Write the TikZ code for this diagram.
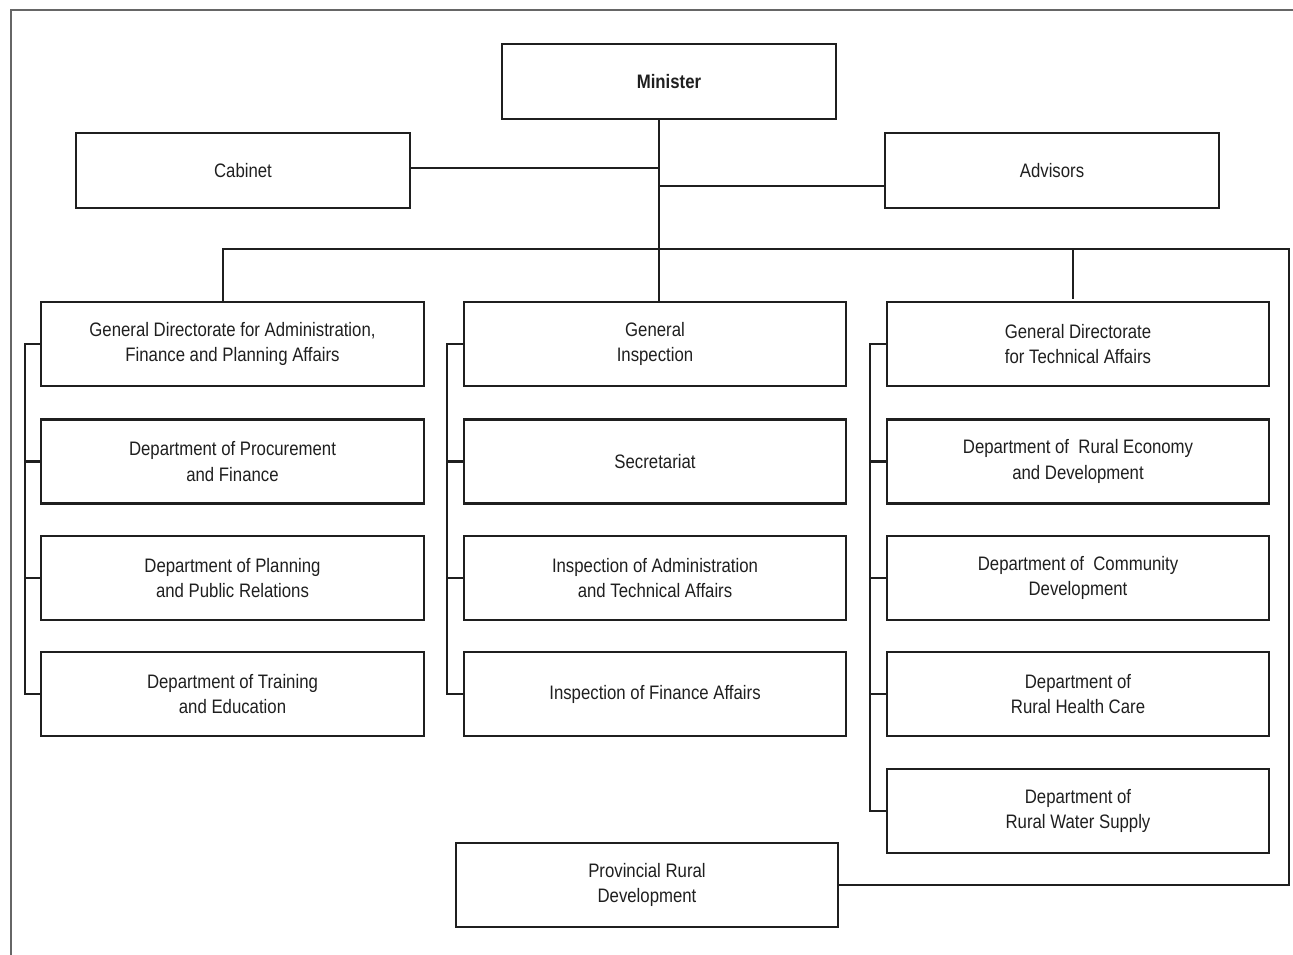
\documentclass[tikz,border=0pt]{standalone}
\usepackage{fontspec}
\setmainfont[FakeStretch=0.86]{Liberation Sans}
\begin{document}
\begin{tikzpicture}[x=1pt,y=-1pt,
  box/.style={draw=black!88, line width=2.3pt, inner sep=0pt, align=center,
    font=\fontsize{19.5}{25.5}\selectfont, text=black!88},
  colbox/.style={box, minimum width=382, minimum height=84},
  topbox/.style={box, minimum width=334, minimum height=75},
  conn/.style={draw=black!88, line width=2.3pt},
  frameline/.style={draw=black!60, line width=2pt}]
\useasboundingbox (0,0) rectangle (1293,955);
\draw[frameline] (11,955) -- (11,10) -- (1293,10);

% top
\node[topbox, font=\fontsize{19.5}{25.5}\selectfont\bfseries] (min) at (669,81.5) {Minister};
\node[topbox] (cab) at (243,170.5) {Cabinet};
\node[topbox] (adv) at (1052,170.5) {Advisors};

% left column
\node[colbox, minimum width=383] (l1) at (232.5,344) {General Directorate for Administration,\\Finance and Planning Affairs};
\node[colbox, minimum width=383] (l2) at (232.5,461.5) {Department of Procurement\\and Finance};
\node[colbox, minimum width=383] (l3) at (232.5,578) {Department of Planning\\and Public Relations};
\node[colbox, minimum width=383] (l4) at (232.5,694) {Department of Training\\and Education};

% middle column
\node[colbox] (m1) at (655,344) {General\\Inspection};
\node[colbox] (m2) at (655,461.5) {Secretariat};
\node[colbox] (m3) at (655,578) {Inspection of Administration\\and Technical Affairs};
\node[colbox] (m4) at (655,694) {Inspection of Finance Affairs};

% right column
\node[colbox] (r1) at (1078,344) {General Directorate\\for Technical Affairs};
\node[colbox] (r2) at (1078,461.5) {Department of\ \ Rural Economy\\and Development};
\node[colbox] (r3) at (1078,578) {Department of\ \ Community\\Development};
\node[colbox] (r4) at (1078,694) {Department of\\Rural Health Care};
\node[colbox] (r5) at (1078,811) {Department of\\Rural Water Supply};

% provincial
\node[colbox] (prov) at (647,885) {Provincial Rural\\Development};

% coordinates
\coordinate (t0) at (659,119);
\coordinate (cy) at (0,168);
\coordinate (ay) at (0,186);
\coordinate (bl) at (223,249);
\coordinate (br) at (1289,249);
\coordinate (rs) at (1073,249);
\coordinate (lb) at (25,0);
\coordinate (mb) at (447,0);
\coordinate (rb) at (870,0);

% connectors
\draw[conn] (min.south -| t0) -- (t0 |- m1.north);
\draw[conn] (cab.east |- cy) -- (t0 |- cy);
\draw[conn] (t0 |- ay) -- (adv.west |- ay);
\draw[conn] (bl |- l1.north) -- (bl) -- (br) -- (br |- prov.east) -- (prov.east);
\draw[conn] (rs) -- ++(0,50);

\draw[conn] (l1.west) -- (lb |- l1.west) -- (lb |- l4.west) -- (l4.west);
\draw[conn] (l2.west) -- (lb |- l2.west);
\draw[conn] (l3.west) -- (lb |- l3.west);

\draw[conn] (m1.west) -- (mb |- m1.west) -- (mb |- m4.west) -- (m4.west);
\draw[conn] (m2.west) -- (mb |- m2.west);
\draw[conn] (m3.west) -- (mb |- m3.west);

\draw[conn] (r1.west) -- (rb |- r1.west) -- (rb |- r5.west) -- (r5.west);
\draw[conn] (r2.west) -- (rb |- r2.west);
\draw[conn] (r3.west) -- (rb |- r3.west);
\draw[conn] (r4.west) -- (rb |- r4.west);
\end{tikzpicture}
\end{document}
